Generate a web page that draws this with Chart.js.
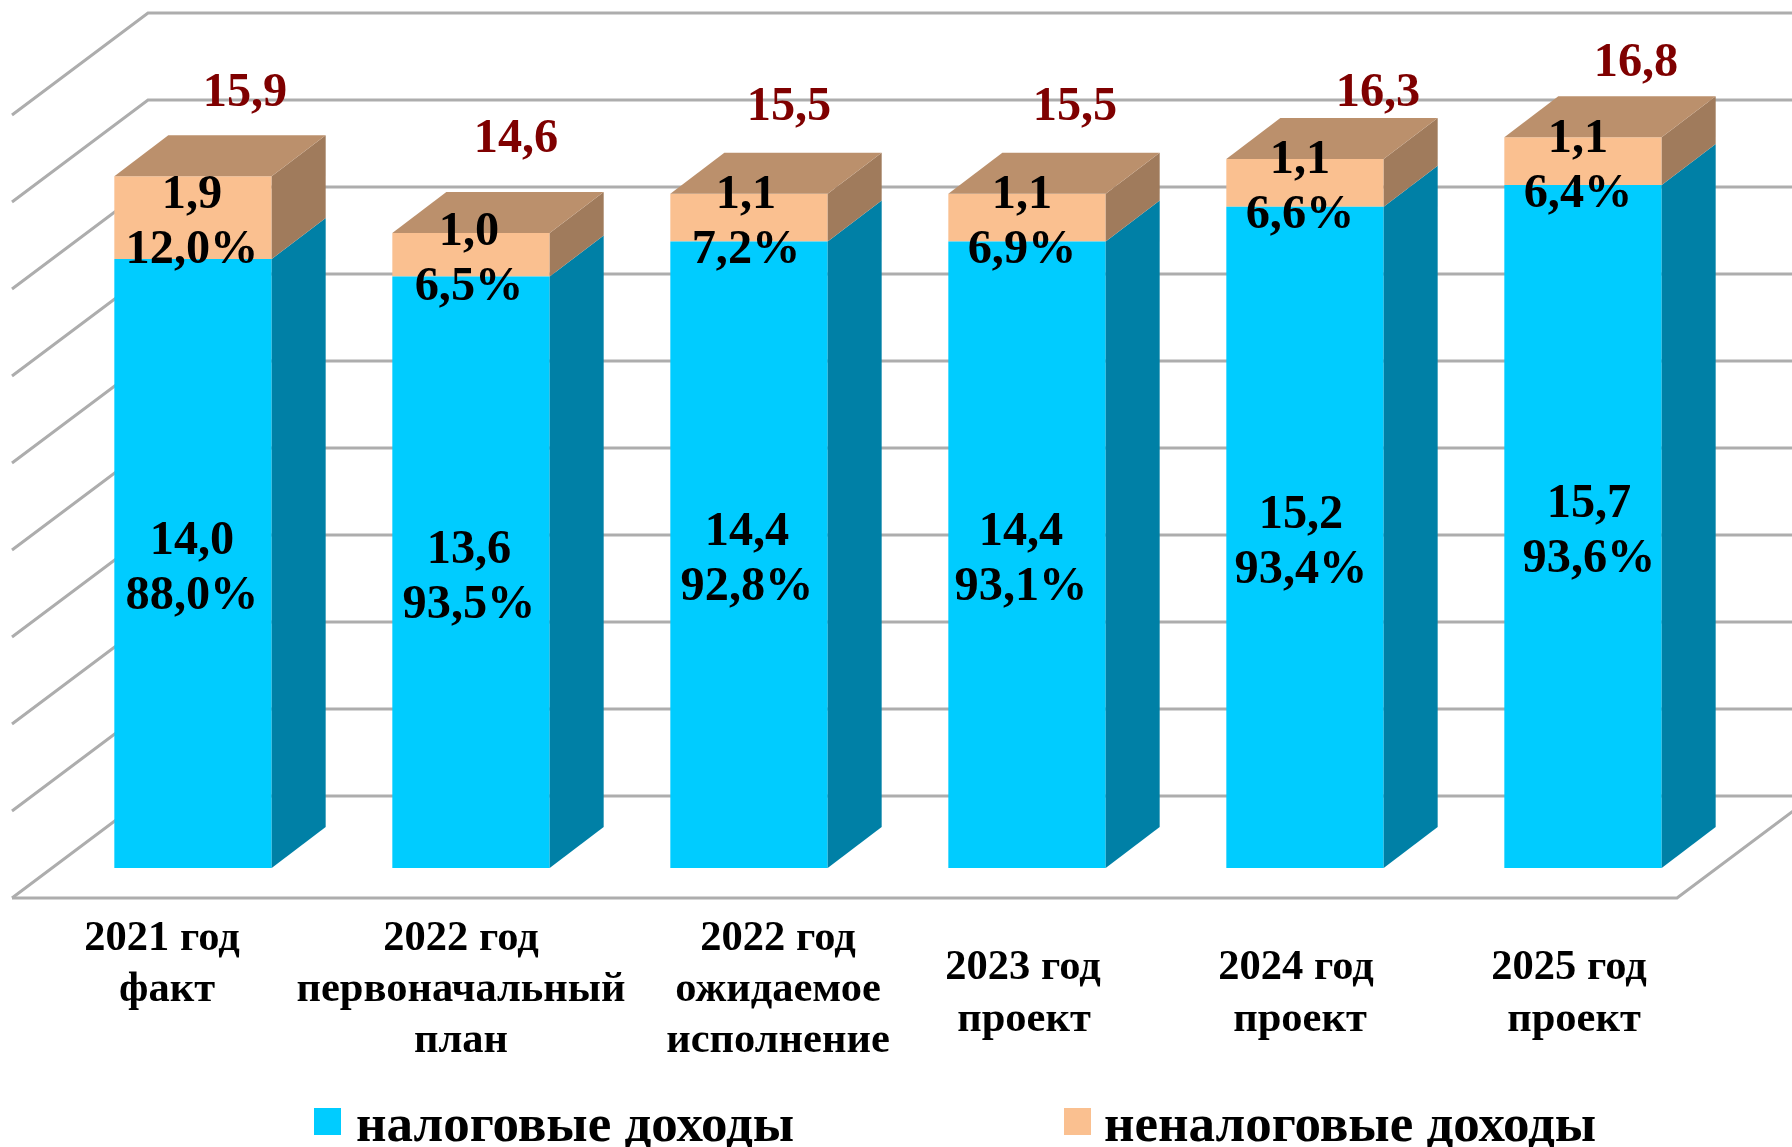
<!DOCTYPE html>
<html lang="ru">
<head>
<meta charset="utf-8">
<title>Налоговые и неналоговые доходы</title>
<style>
html,body{margin:0;padding:0;background:#fff;overflow:hidden}
canvas{display:block}
</style>
<script src="https://cdn.jsdelivr.net/npm/chart.js@4"></script>
</head>
<body>
<canvas id="c" width="1792" height="1147"></canvas>
<script>
const categories = [
  ["2021 год", "факт"],
  ["2022 год", "первоначальный", "план"],
  ["2022 год", "ожидаемое", "исполнение"],
  ["2023 год", "проект"],
  ["2024 год", "проект"],
  ["2025 год", "проект"]
];
const taxRevenue = [14.0, 13.6, 14.4, 14.4, 15.2, 15.7];
const nonTaxRevenue = [1.9, 1.0, 1.1, 1.1, 1.1, 1.1];
const taxShare = ["88,0%", "93,5%", "92,8%", "93,1%", "93,4%", "93,6%"];
const nonTaxShare = ["12,0%", "6,5%", "7,2%", "6,9%", "6,6%", "6,4%"];
const totals = [15.9, 14.6, 15.5, 15.5, 16.3, 16.8];
const seriesNames = ["налоговые доходы", "неналоговые доходы"];

// Placement and style tweaks (offsets from the library's own positions)
const catLabelDx = [[-31, -26], [-10, -10, -10], [29, 29, 29], [-4, -3], [-9, -5], [-14, -9]];
const catLabelBaseline = [950, 950, 950, 979, 979, 979];
const catLineStep = [51, 51, 51, 52, 52, 52];
const lowerLabelDx = [-1, -2, -2, -6, -4, 6];
const upperLabelDx = [-1, -2, -3, -5, -5, -5];
const totalDx = [52, 45, 40, 48, 73, 53];
const totalBaselineDy = [-70, -81, -74, -74, -53, -61];
const legendBoxX = [314, 1064];
const legendTextX = [356, 1104];

const FONT = '"Liberation Serif", "Times New Roman", serif';
const depthBar = {dx: 54, dy: 41};
const depthWall = {dx: 136, dy: 102};
const floorDrop = 30;
const floorInset = 42;
const floorWidth = 1665;
const gridColor = '#ADADAD';
const faces = [
  {front: '#00CCFF', side: '#0080A6', top: '#0099BF'},
  {front: '#FAC090', side: '#A07B5C', top: '#BB906C'}
];
const fmt = v => v.toFixed(1).replace('.', ',');

const wall3d = {
  id: 'wall3d',
  beforeDatasetsDraw(chart) {
    const {ctx, scales: {y}, chartArea: a} = chart;
    const left = a.left - floorInset, right = left + floorWidth;
    const base = y.getPixelForValue(0) + floorDrop;
    ctx.save();
    ctx.strokeStyle = gridColor;
    ctx.lineWidth = 3;
    ctx.lineJoin = 'miter';
    y.ticks.forEach(t => {
      const h = y.getPixelForValue(0) - y.getPixelForValue(t.value);
      ctx.beginPath();
      ctx.moveTo(left, base - h);
      ctx.lineTo(left + depthWall.dx, base - h - depthWall.dy);
      ctx.lineTo(chart.width, base - h - depthWall.dy);
      ctx.stroke();
    });
    ctx.beginPath();
    ctx.moveTo(left, base);
    ctx.lineTo(right, base);
    ctx.lineTo(right + depthWall.dx, base - depthWall.dy);
    ctx.stroke();
    ctx.restore();
  }
};

const box3d = {
  id: 'box3d',
  afterDatasetsDraw(chart) {
    const {ctx} = chart;
    ctx.save();
    chart.data.datasets.forEach((ds, d) => {
      chart.getDatasetMeta(d).data.forEach(bar => {
        const r = bar.x + bar.width / 2, l = bar.x - bar.width / 2;
        ctx.fillStyle = faces[d].side;
        ctx.beginPath();
        ctx.moveTo(r, bar.base);
        ctx.lineTo(r + depthBar.dx, bar.base - depthBar.dy);
        ctx.lineTo(r + depthBar.dx, bar.y - depthBar.dy);
        ctx.lineTo(r, bar.y);
        ctx.closePath();
        ctx.fill();
        if (d === chart.data.datasets.length - 1) {
          ctx.fillStyle = faces[d].top;
          ctx.beginPath();
          ctx.moveTo(l, bar.y);
          ctx.lineTo(l + depthBar.dx, bar.y - depthBar.dy);
          ctx.lineTo(r + depthBar.dx, bar.y - depthBar.dy);
          ctx.lineTo(r, bar.y);
          ctx.closePath();
          ctx.fill();
        }
      });
    });
    ctx.restore();
  }
};

const texts = {
  id: 'texts',
  afterDraw(chart) {
    const {ctx, scales: {x}} = chart;
    const low = chart.getDatasetMeta(0).data;
    const up = chart.getDatasetMeta(1).data;
    ctx.save();
    ctx.textAlign = 'center';

    // value and share labels
    ctx.font = 'bold 48.3px ' + FONT;
    ctx.fillStyle = '#000';
    ctx.textBaseline = 'alphabetic';
    const gap = 55, toBase = 15;
    categories.forEach((_, i) => {
      const lc = (low[i].y + low[i].base) / 2 + 3;
      ctx.fillText(fmt(taxRevenue[i]), low[i].x + lowerLabelDx[i], lc - gap / 2 + toBase);
      ctx.fillText(taxShare[i], low[i].x + lowerLabelDx[i], lc + gap / 2 + toBase);
      const uc = (up[i].y + up[i].base) / 2 + 3;
      ctx.fillText(fmt(nonTaxRevenue[i]), up[i].x + upperLabelDx[i], uc - gap / 2 + toBase);
      ctx.fillText(nonTaxShare[i], up[i].x + upperLabelDx[i], uc + gap / 2 + toBase);
    });

    // totals
    ctx.fillStyle = '#7F0000';
    totals.forEach((v, i) => {
      ctx.fillText(fmt(v), up[i].x + totalDx[i], up[i].y + totalBaselineDy[i]);
    });

    // category labels
    ctx.font = 'bold 42.5px ' + FONT;
    ctx.fillStyle = '#000';
    categories.forEach((lines, i) => {
      lines.forEach((line, k) => {
        ctx.fillText(line, x.getPixelForValue(i) + catLabelDx[i][k], catLabelBaseline[i] + k * catLineStep[i]);
      });
    });

    // legend
    ctx.textAlign = 'left';
    ctx.font = 'bold 53px ' + FONT;
    seriesNames.forEach((name, i) => {
      ctx.fillStyle = chart.data.datasets[i].backgroundColor;
      ctx.fillRect(legendBoxX[i], 1108, 27, 27);
      ctx.fillStyle = '#000';
      ctx.fillText(name, legendTextX[i], 1141);
    });
    ctx.restore();
  }
};

new Chart(document.getElementById('c'), {
  type: 'bar',
  data: {
    labels: categories,
    datasets: [
      {label: seriesNames[0], data: taxRevenue, backgroundColor: faces[0].front, borderWidth: 0, stack: 's'},
      {label: seriesNames[1], data: nonTaxRevenue, backgroundColor: faces[1].front, borderWidth: 0, stack: 's'}
    ]
  },
  options: {
    responsive: false,
    animation: false,
    events: [],
    layout: {padding: {left: 54, right: 70, top: 85, bottom: 279}},
    datasets: {bar: {categoryPercentage: 1, barPercentage: 0.566}},
    scales: {
      x: {stacked: true, display: false},
      y: {stacked: true, display: false, min: 0, max: 18, ticks: {stepSize: 2}}
    },
    plugins: {legend: {display: false}, tooltip: {enabled: false}, title: {display: false}}
  },
  plugins: [wall3d, box3d, texts]
});
</script>
</body>
</html>
